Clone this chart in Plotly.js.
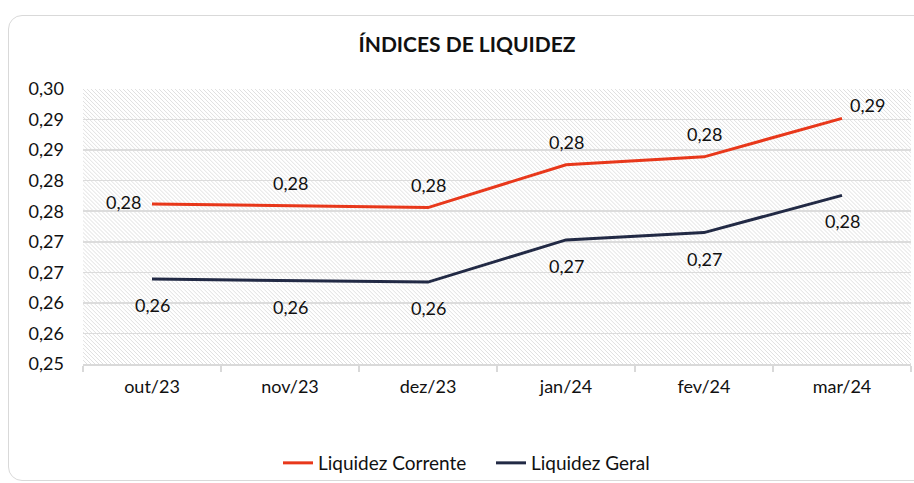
<!DOCTYPE html>
<html>
<head>
<meta charset="utf-8">
<script src="https://cdn.plot.ly/plotly-3.0.1.min.js"></script>
<style>
  html, body { margin: 0; padding: 0; background: #fff; overflow: hidden; }
  #frame { position: absolute; left: 8px; top: 15px; width: 960px; height: 466px;
           border: 1px solid #d9d9d9; border-radius: 14px; box-sizing: border-box; }
  #chart { position: absolute; left: 0; top: 0; width: 914px; height: 483px; }
</style>
</head>
<body>
<div id="frame"></div>
<div id="chart"></div>
<script>
const categories = ['out/23', 'nov/23', 'dez/23', 'jan/24', 'fev/24', 'mar/24'];
const liquidezCorrente = [0.2762, 0.2759, 0.2756, 0.2826, 0.2839, 0.2902];
const liquidezGeral = [0.2639, 0.2636, 0.2634, 0.2703, 0.2715, 0.2776];
const yTickVals = [0.25, 0.255, 0.26, 0.265, 0.27, 0.275, 0.28, 0.285, 0.29, 0.295];
const yTickText = ['0,25', '0,26', '0,26', '0,27', '0,27', '0,28', '0,28', '0,29', '0,29', '0,30'];

const fmt = v => v.toFixed(2).replace('.', ',');
const FONT = 'Lato, "Open Sans", sans-serif';
const TXT = '#111111';
const FS = 18;

const traces = [
  { x: categories, y: liquidezCorrente, name: 'Liquidez Corrente', type: 'scatter', mode: 'lines',
    line: { color: '#e8381b', width: 3 }, hoverinfo: 'skip' },
  { x: categories, y: liquidezGeral, name: 'Liquidez Geral', type: 'scatter', mode: 'lines',
    line: { color: '#222a45', width: 3 }, hoverinfo: 'skip' }
];

const annotations = [];
liquidezCorrente.forEach((v, i) => {
  let xs = 0, ys = 23;
  if (i === 0) { xs = -29; ys = 2; }
  if (i === categories.length - 1) { xs = 25; ys = 13; }
  annotations.push({ x: categories[i], y: v, xref: 'x', yref: 'y', text: fmt(v),
    showarrow: false, xshift: xs, yshift: ys, font: { family: FONT, size: FS, color: TXT } });
});
liquidezGeral.forEach((v, i) => {
  annotations.push({ x: categories[i], y: v, xref: 'x', yref: 'y', text: fmt(v),
    showarrow: false, xshift: 0, yshift: -26, font: { family: FONT, size: FS, color: TXT } });
});

// hatch background for plot area
const pw = 828, ph = 276;
const hatchSvg = `<svg xmlns="http://www.w3.org/2000/svg" width="${pw}" height="${ph}" viewBox="0 0 ${pw} ${ph}" preserveAspectRatio="none"><defs><pattern id="h" patternUnits="userSpaceOnUse" width="4" height="4"><path d="M-1,-1 L5,5 M-1,3 L1,5 M3,-1 L5,1" stroke="#dcdcdc" stroke-width="0.9"/></pattern></defs><rect width="${pw}" height="${ph}" fill="url(#h)"/></svg>`;
const hatchUri = 'data:image/svg+xml;base64,' + btoa(hatchSvg);

const layout = {
  width: 914, height: 483,
  margin: { l: 83, r: 3, t: 89, b: 118 },
  paper_bgcolor: 'rgba(0,0,0,0)',
  plot_bgcolor: 'rgba(0,0,0,0)',
  font: { family: FONT, size: FS, color: TXT },
  title: { text: '<b>ÍNDICES DE LIQUIDEZ</b>', x: 467 / 914, xref: 'container', xanchor: 'center',
           y: 1 - 45 / 483, yref: 'container', yanchor: 'middle',
           font: { family: FONT, size: 21, color: TXT } },
  xaxis: {
    type: 'category', range: [-0.5, 5.5], showgrid: false, showline: true, linecolor: '#d9d9d9', linewidth: 1.5,
    ticks: 'outside', tickson: 'boundaries', ticklen: 6, tickcolor: '#d9d9d9', tickwidth: 1.5,
    ticklabelstandoff: 6, tickfont: { family: FONT, size: FS, color: TXT }, zeroline: false,
    fixedrange: true
  },
  yaxis: {
    range: [0.25, 0.295], tickvals: yTickVals, ticktext: yTickText,
    showgrid: true, gridcolor: '#dcdcdc', gridwidth: 1.5, zeroline: false, showline: false,
    ticks: '', ticklabelstandoff: 18, tickfont: { family: FONT, size: FS, color: TXT },
    fixedrange: true
  },
  images: [{ source: hatchUri, xref: 'paper', yref: 'paper', x: 0, y: 1, sizex: 1, sizey: 1,
             xanchor: 'left', yanchor: 'top', sizing: 'stretch', layer: 'below' }],
  annotations: annotations,
  showlegend: true,
  legend: { orientation: 'h', x: (278 - 83) / 828, xref: 'paper', xanchor: 'left',
            y: (365 - 463) / 276, yanchor: 'middle', entrywidth: 168, entrywidthmode: 'pixels',
            font: { family: FONT, size: 19, color: TXT }, itemwidth: 30, tracegroupgap: 0 },
  hovermode: false
};

Plotly.newPlot('chart', traces, layout, { displayModeBar: false, staticPlot: true });
</script>
</body>
</html>
